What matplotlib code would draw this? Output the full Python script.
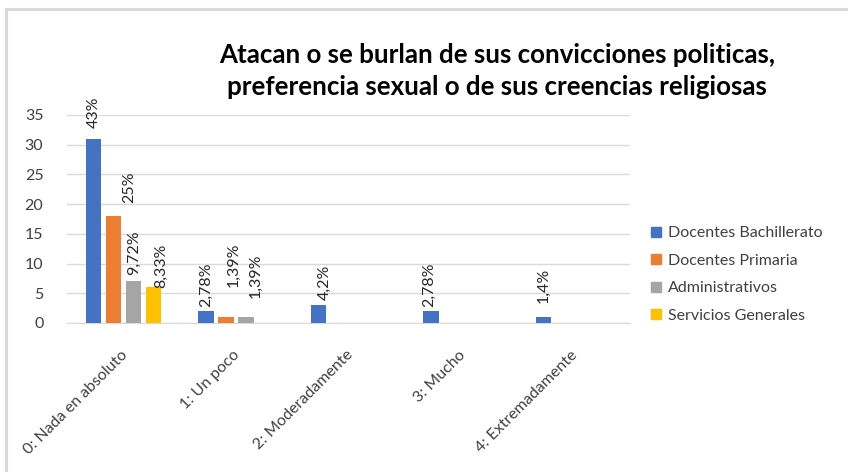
import numpy as np
import matplotlib
matplotlib.use('Agg')
import matplotlib.pyplot as plt
import matplotlib.transforms as mtransforms
from matplotlib.patches import Patch
from matplotlib.lines import Line2D

# ── data ───────────────────────────────────────────────────────────────────
CATEGORIES = ['0: Nada en absoluto', '1: Un poco', '2: Moderadamente',
              '3: Mucho', '4: Extremadamente']
SERIES = ['Docentes Bachillerato', 'Docentes Primaria',
          'Administrativos', 'Servicios Generales']
BACHILLERATO = [31, 2, 3, 2, 1]
PRIMARIA     = [18, 1, 0, 0, 0]
ADMIN        = [7, 1, 0, 0, 0]
SERVICIOS    = [6, 0, 0, 0, 0]
LABELS = [
    ['43%', '2,78%', '4,2%', '2,78%', '1,4%'],
    ['25%', '1,39%', '', '', ''],
    ['9,72%', '1,39%', '', '', ''],
    ['8,33%', '', '', '', ''],
]
TITLE = ('Atacan o se burlan de sus convicciones politicas,\n'
         'preferencia sexual o de sus creencias religiosas')

# ── style ──────────────────────────────────────────────────────────────────
COLORS = ['#4472C4', '#ED7D31', '#A5A5A5', '#FFC000']
FONT = 'Lato'
# manual label nudges in pixels (dx, dy) per series / category
LABEL_SHIFT = [
    [(0, 11), (0, 4), (6, 5), (-2, 4), (0, 14)],
    [(16, 13), (8, 30), (0, 0), (0, 0), (0, 0)],
    [(1, 6), (10, 19), (0, 0), (0, 0), (0, 0)],
    [(8, -1), (0, 0), (0, 0), (0, 0), (0, 0)],
]

plt.rcParams['font.family'] = [FONT, 'DejaVu Sans']

fig = plt.figure(figsize=(8.48, 4.72), dpi=100)
W, H = 848, 472
ax = fig.add_axes([67 / W, 1 - 323 / H, (630 - 67) / W, (323 - 115) / H])

# chart frame (top / left edges visible)
fig.add_artist(Line2D([5.5 / W, 5.5 / W], [0, 1 - 8.5 / H], color='#d9d9d9', lw=2.2,
                      transform=fig.transFigure))
fig.add_artist(Line2D([5.5 / W, 1], [1 - 8.5 / H, 1 - 8.5 / H], color='#d9d9d9', lw=2.2,
                      transform=fig.transFigure))

x = np.arange(len(CATEGORIES))
step = 0.1776
width = 0.138
all_series = [BACHILLERATO, PRIMARIA, ADMIN, SERVICIOS]
for i, (vals, name) in enumerate(zip(all_series, SERIES)):
    xs = x + (i - 1.5) * step
    ax.bar(xs, vals, width=width, color=COLORS[i], label=name, zorder=3)
    for j, (xx, v) in enumerate(zip(xs, vals)):
        lbl = LABELS[i][j]
        if not lbl:
            continue
        dx, dy = LABEL_SHIFT[i][j]
        ax.annotate(lbl, (xx, v), xytext=(dx, dy), textcoords='offset pixels',
                    rotation=90, ha='center', va='bottom', fontsize=11.5,
                    color='#262626')

ax.set_xlim(-0.5, len(CATEGORIES) - 0.5)
ax.set_ylim(0, 35)
ax.set_yticks(range(0, 36, 5))
ax.grid(axis='y', color='#d9d9d9', lw=1.0, zorder=0)
for s in ['top', 'right', 'left']:
    ax.spines[s].set_visible(False)
ax.spines['bottom'].set_color('#d9d9d9')
ax.tick_params(axis='y', length=0, pad=17, labelsize=11.5, labelcolor='#404040')
ax.tick_params(axis='x', length=0)
ax.set_xticks(x)
ax.set_xticklabels(CATEGORIES, rotation=45, ha='right', va='top',
                   rotation_mode='anchor', fontsize=11.5, color='#404040')
off = mtransforms.ScaledTranslation(-3 / 100, -20 / 100, fig.dpi_scale_trans)
for t in ax.get_xticklabels():
    t.set_transform(t.get_transform() + off)

fig.text(497 / W, 1 - 71 / H, TITLE, ha='center', va='center', fontsize=18.6,
         fontweight='bold', color='#000000', linespacing=1.38)

handles = [Patch(color=c, label=n) for c, n in zip(COLORS, SERIES)]
fig.legend(handles=handles, loc='upper left', bbox_to_anchor=(637 / W, 1 - 212 / H),
           frameon=False, fontsize=11.5, handlelength=0.6, handleheight=0.6,
           handletextpad=0.45, labelspacing=0.84, labelcolor='#404040')

fig.savefig('out.png', dpi=100)
